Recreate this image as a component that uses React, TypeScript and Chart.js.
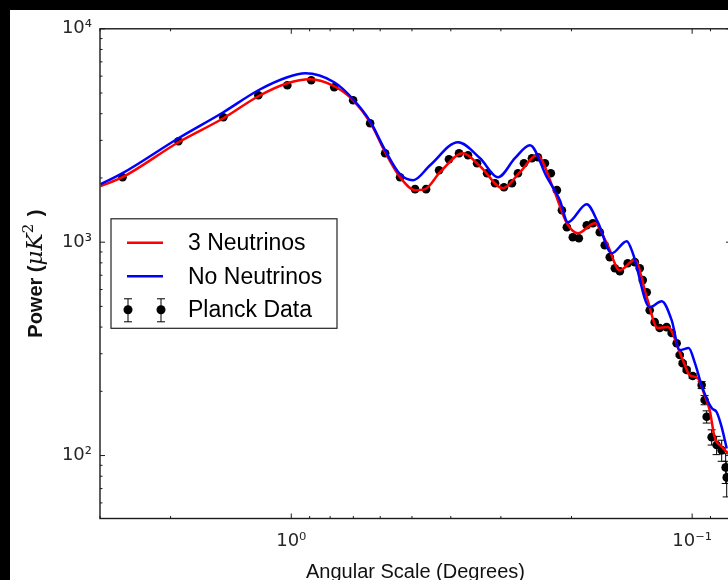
import React, { useEffect, useRef } from 'react';
import { Chart, registerables } from 'chart.js';

Chart.register(...registerables);

// ---------- labels ----------
const seriesLabels = ['3 Neutrinos', 'No Neutrinos', 'Planck Data'];
const xTitle = 'Angular Scale (Degrees)';
const yTitleParts = ['Power (', 'μK', '2', ' )'];
const xTickValues = [1, 0.1];
const xTickLabels = ['10⁰', '10⁻¹'];
const yTickValues = [100, 1000, 10000];
const yTickLabels = ['10²', '10³', '10⁴'];
const xRange = [0.08, 3];
const yRange = [50.7, 10000];

// ---------- 3 neutrinos model (degrees, μK²) ----------
const threeNuAngle = [2.990, 2.636, 1.912, 1.477, 1.208, 1.023, 0.8968, 0.7814, 0.7010, 0.6358, 0.5833, 0.5353, 0.4911, 0.4637, 0.4254, 0.3729, 0.3381, 0.2964, 0.2689, 0.2439, 0.2226, 0.2054, 0.1928, 0.1749, 0.1633, 0.1515, 0.1390, 0.1298, 0.1219, 0.1151, 0.1062, 0.1014, 0.0969, 0.0931, 0.0904, 0.0879, 0.0844, 0.0802];
const threeNuPower = [1830, 2016, 2940, 3810, 4829, 5556, 5801, 5379, 4625, 3649, 2640, 2016, 1753, 1772, 2128, 2611, 2270, 1791, 2128, 2556, 1810, 1227, 1102, 1227, 989, 739, 824, 553, 396, 400, 289, 238, 231, 192, 163, 122, 110, 100];

// ---------- no neutrinos model ----------
const noNuAngle = [2.990, 2.636, 1.912, 1.477, 1.208, 1.023, 0.9228, 0.7814, 0.7010, 0.6358, 0.5833, 0.5353, 0.4967, 0.4505, 0.3837, 0.3381, 0.3049, 0.2767, 0.2539, 0.2304, 0.2138, 0.2042, 0.1832, 0.1719, 0.1587, 0.1456, 0.1406, 0.1276, 0.1191, 0.1125, 0.1074, 0.1020, 0.0986, 0.0942, 0.0894, 0.0869, 0.0844, 0.0820];
const noNuPower = [1870, 2105, 3070, 4064, 5152, 5928, 6188, 5616, 4675, 3688, 2697, 2082, 1952, 2295, 2940, 2474, 2016, 2474, 2847, 2016, 1573, 1241, 1507, 1241, 888, 1011, 888, 496, 529, 431, 312, 319, 274, 207, 167, 160, 136, 108];

// ---------- Planck data ----------
const planckAngle = [2.636, 1.912, 1.477, 1.208, 1.023, 0.8916, 0.7814, 0.7010, 0.6358, 0.5833, 0.5353, 0.4911, 0.4610, 0.4279, 0.4042, 0.3815, 0.3623, 0.3440, 0.3248, 0.3102, 0.2947, 0.2815, 0.2720, 0.2628, 0.2510, 0.2425, 0.2330, 0.2252, 0.2175, 0.2113, 0.2054, 0.1985, 0.1917, 0.1832, 0.1769, 0.1700, 0.1652, 0.1605, 0.1559, 0.1515, 0.1448, 0.1390, 0.1351, 0.1328, 0.1298, 0.1276, 0.1240, 0.1205, 0.1158, 0.1125, 0.1093, 0.1074, 0.1056, 0.1032, 0.0997, 0.0947, 0.0931, 0.0920, 0.0894, 0.0869, 0.0844, 0.0825, 0.0820];
const planckPower = [2016, 2972, 3851, 4881, 5437, 5739, 5321, 4625, 3610, 2611, 2016, 1772, 1772, 2174, 2448, 2611, 2556, 2345, 2105, 1890, 1810, 1890, 2105, 2345, 2474, 2501, 2345, 2105, 1753, 1412, 1176, 1055, 1044, 1201, 1227, 1114, 968, 851, 755, 731, 797, 806, 755, 664, 583, 480, 422, 396, 400, 375, 336, 296, 271, 252, 236, 214, 182, 152, 122, 112, 106, 88, 79];
const planckError = [0, 0, 0, 0, 0, 0, 0, 0, 0, 0, 0, 0, 0, 0, 0, 0, 0, 0, 0, 0, 0, 0, 0, 0, 0, 0, 0, 0, 0, 0, 0, 0, 0, 0, 0, 0, 0, 0, 0, 0, 0, 0, 0, 0, 0, 0, 0, 0, 0, 0, 0, 4, 5, 5, 6, 8, 9, 10, 10, 11, 12, 14, 15];

const RED = '#ff0000';
const BLUE = '#0000ff';
const INK = '#1a1a1a';

function minorValues(lo: number, hi: number) {
  const out: number[] = [];
  for (let k = -3; k <= 5; k++) {
    for (let m = 2; m <= 9; m++) {
      const v = m * Math.pow(10, k);
      if (v >= lo && v <= hi) out.push(v);
    }
  }
  return out;
}

const errorBarPlugin = {
  id: 'errorBars',
  beforeDatasetsDraw(chart: any) {
    const { ctx, chartArea: a, scales } = chart;
    ctx.save();
    ctx.beginPath();
    ctx.rect(a.left, a.top, a.right - a.left, a.bottom - a.top);
    ctx.clip();
    ctx.strokeStyle = '#000';
    ctx.lineWidth = 1;
    ctx.beginPath();
    planckPower.forEach((p, i) => {
      const e = planckError[i];
      if (!e) return;
      const x = scales.x.getPixelForValue(planckAngle[i]);
      const y1 = scales.y.getPixelForValue(p + e);
      const y2 = scales.y.getPixelForValue(p - e);
      ctx.moveTo(x, y1); ctx.lineTo(x, y2);
      ctx.moveTo(x - 4, y1); ctx.lineTo(x + 4, y1);
      ctx.moveTo(x - 4, y2); ctx.lineTo(x + 4, y2);
    });
    ctx.stroke();
    ctx.restore();
  },
};

const framePlugin = {
  id: 'frame',
  afterDatasetsDraw(chart: any) {
    const { ctx, chartArea: a, scales } = chart;
    const xs = scales.x, ys = scales.y;
    ctx.save();
    ctx.strokeStyle = INK;
    ctx.lineWidth = 1;
    ctx.beginPath();
    const xTick = (v: number, len: number) => {
      const px = xs.getPixelForValue(v);
      ctx.moveTo(px, a.bottom); ctx.lineTo(px, a.bottom - len);
      ctx.moveTo(px, a.top); ctx.lineTo(px, a.top + len);
    };
    const yTick = (v: number, len: number) => {
      const py = ys.getPixelForValue(v);
      ctx.moveTo(a.left, py); ctx.lineTo(a.left + len, py);
      ctx.moveTo(a.right, py); ctx.lineTo(a.right - len, py);
    };
    xTickValues.forEach((v) => xTick(v, 5));
    minorValues(xRange[0], xRange[1]).forEach((v) => xTick(v, 2.5));
    yTickValues.forEach((v) => yTick(v, 5));
    minorValues(yRange[0], yRange[1]).forEach((v) => yTick(v, 2.5));
    ctx.stroke();
    ctx.lineWidth = 1.4;
    ctx.strokeRect(a.left, a.top, a.right - a.left, a.bottom - a.top);
    ctx.restore();
  },
};

const overlayPlugin = {
  id: 'overlay',
  afterDraw(chart: any) {
    const { ctx, chartArea: a } = chart;
    ctx.save();
    // ----- y axis title (mixed fonts) -----
    const fBold = 'bold 20px "Liberation Sans", Arial, sans-serif';
    const fMath = 'italic 23px "DejaVu Serif", serif';
    const fSup = '15px "DejaVu Serif", serif';
    const pieces = [
      { t: yTitleParts[0], f: fBold, dy: 0 },
      { t: yTitleParts[1], f: fMath, dy: 0 },
      { t: yTitleParts[2], f: fSup, dy: -9 },
      { t: yTitleParts[3], f: fBold, dy: 0 },
    ];
    let total = 0;
    const widths = pieces.map((p) => { ctx.font = p.f; const w = ctx.measureText(p.t).width + (p.t === yTitleParts[2] ? 2 : 0); total += w; return w; });
    ctx.translate(32, (a.top + a.bottom) / 2);
    ctx.rotate(-Math.PI / 2);
    ctx.fillStyle = '#111';
    ctx.textBaseline = 'alphabetic';
    ctx.textAlign = 'left';
    let cx = -total / 2;
    pieces.forEach((p, i) => { ctx.font = p.f; ctx.fillText(p.t, cx, p.dy); cx += widths[i]; });
    ctx.restore();

    // ----- legend -----
    ctx.save();
    const x0 = a.left + 11;
    const y0 = a.top + 190;
    const w = 226, h = 109.5;
    ctx.fillStyle = '#fff';
    ctx.fillRect(x0, y0, w, h);
    ctx.strokeStyle = '#222';
    ctx.lineWidth = 1.2;
    ctx.strokeRect(x0, y0, w, h);
    const rows = [y0 + 24, y0 + 57.5, y0 + 91];
    ctx.lineWidth = 2.5;
    ctx.strokeStyle = RED;
    ctx.beginPath(); ctx.moveTo(x0 + 16, rows[0]); ctx.lineTo(x0 + 52, rows[0]); ctx.stroke();
    ctx.strokeStyle = BLUE;
    ctx.beginPath(); ctx.moveTo(x0 + 16, rows[1]); ctx.lineTo(x0 + 52, rows[1]); ctx.stroke();
    // planck markers with error bars
    ctx.strokeStyle = '#000';
    ctx.fillStyle = '#000';
    ctx.lineWidth = 1;
    [x0 + 17, x0 + 50].forEach((mx) => {
      ctx.beginPath();
      ctx.moveTo(mx, rows[2] - 11); ctx.lineTo(mx, rows[2] + 12);
      ctx.moveTo(mx - 4, rows[2] - 11); ctx.lineTo(mx + 4, rows[2] - 11);
      ctx.moveTo(mx - 4, rows[2] + 12); ctx.lineTo(mx + 4, rows[2] + 12);
      ctx.stroke();
      ctx.beginPath(); ctx.arc(mx, rows[2], 4.5, 0, Math.PI * 2); ctx.fill();
    });
    ctx.font = '23px "Liberation Sans", Arial, sans-serif';
    ctx.fillStyle = '#000';
    ctx.textBaseline = 'middle';
    ctx.textAlign = 'left';
    seriesLabels.forEach((lab, i) => ctx.fillText(lab, x0 + 77, rows[i] + 1));
    ctx.restore();
  },
};

export default function App() {
  const ref = useRef<HTMLCanvasElement>(null);

  useEffect(() => {
    if (!ref.current) return;
    const chart = new Chart(ref.current, {
      type: 'scatter',
      data: {
        datasets: [
          {
            label: seriesLabels[0],
            data: threeNuAngle.map((x, i) => ({ x, y: threeNuPower[i] })),
            showLine: true,
            borderColor: RED,
            backgroundColor: RED,
            borderWidth: 2.5,
            pointRadius: 0,
            cubicInterpolationMode: 'monotone',
            order: 1,
          },
          {
            label: seriesLabels[1],
            data: noNuAngle.map((x, i) => ({ x, y: noNuPower[i] })),
            showLine: true,
            borderColor: BLUE,
            backgroundColor: BLUE,
            borderWidth: 2.5,
            pointRadius: 0,
            cubicInterpolationMode: 'monotone',
            order: 0,
          },
          {
            label: seriesLabels[2],
            data: planckAngle.map((x, i) => ({ x, y: planckPower[i] })),
            showLine: false,
            borderColor: '#000',
            backgroundColor: '#000',
            pointRadius: 4.3,
            pointBorderWidth: 0,
            order: 2,
          },
        ],
      },
      options: {
        animation: false,
        responsive: false,
        devicePixelRatio: 1,
        layout: { padding: { left: 0, top: 18.5, right: 9, bottom: 0 } },
        plugins: { legend: { display: false }, tooltip: { enabled: false }, title: { display: false } },
        scales: {
          x: {
            type: 'logarithmic',
            reverse: true,
            min: xRange[0],
            max: xRange[1],
            bounds: 'data',
            grid: { display: false, drawTicks: false },
            border: { display: false },
            afterBuildTicks: (s: any) => { s.ticks = xTickValues.map((v) => ({ value: v })); },
            afterFit: (s: any) => { s.height = 66.5; },
            ticks: {
              autoSkip: false,
              maxRotation: 0,
              padding: 12,
              color: '#262626',
              font: { family: '"DejaVu Sans", sans-serif', size: 18 },
              callback: (v: any) => { const i = xTickValues.indexOf(Number(v)); return i >= 0 ? xTickLabels[i] : ''; },
            },
            title: {
              display: true,
              text: xTitle,
              color: '#111',
              font: { family: '"Liberation Sans", Arial, sans-serif', size: 20 },
              padding: { top: 0, bottom: 1 },
            },
          },
          y: {
            type: 'logarithmic',
            min: yRange[0],
            max: yRange[1],
            bounds: 'data',
            grid: { display: false, drawTicks: false },
            border: { display: false },
            afterBuildTicks: (s: any) => { s.ticks = yTickValues.map((v) => ({ value: v })); },
            afterFit: (s: any) => { s.width = 90; },
            ticks: {
              autoSkip: false,
              padding: 8,
              color: '#262626',
              font: { family: '"DejaVu Sans", sans-serif', size: 18 },
              callback: (v: any) => { const i = yTickValues.indexOf(Number(v)); return i >= 0 ? yTickLabels[i] : ''; },
            },
          },
        },
      },
      plugins: [errorBarPlugin, framePlugin, overlayPlugin],
    } as any);
    return () => chart.destroy();
  }, []);

  return (
    <div style={{ position: 'fixed', left: 0, top: 0, width: 728, height: 580, background: '#000', overflow: 'hidden' }}>
      <div style={{ position: 'absolute', left: 10, top: 10, width: 760, height: 600, background: '#fff' }}>
        <canvas ref={ref} width={730} height={575} style={{ display: 'block', width: 730, height: 575 }} />
      </div>
    </div>
  );
}
